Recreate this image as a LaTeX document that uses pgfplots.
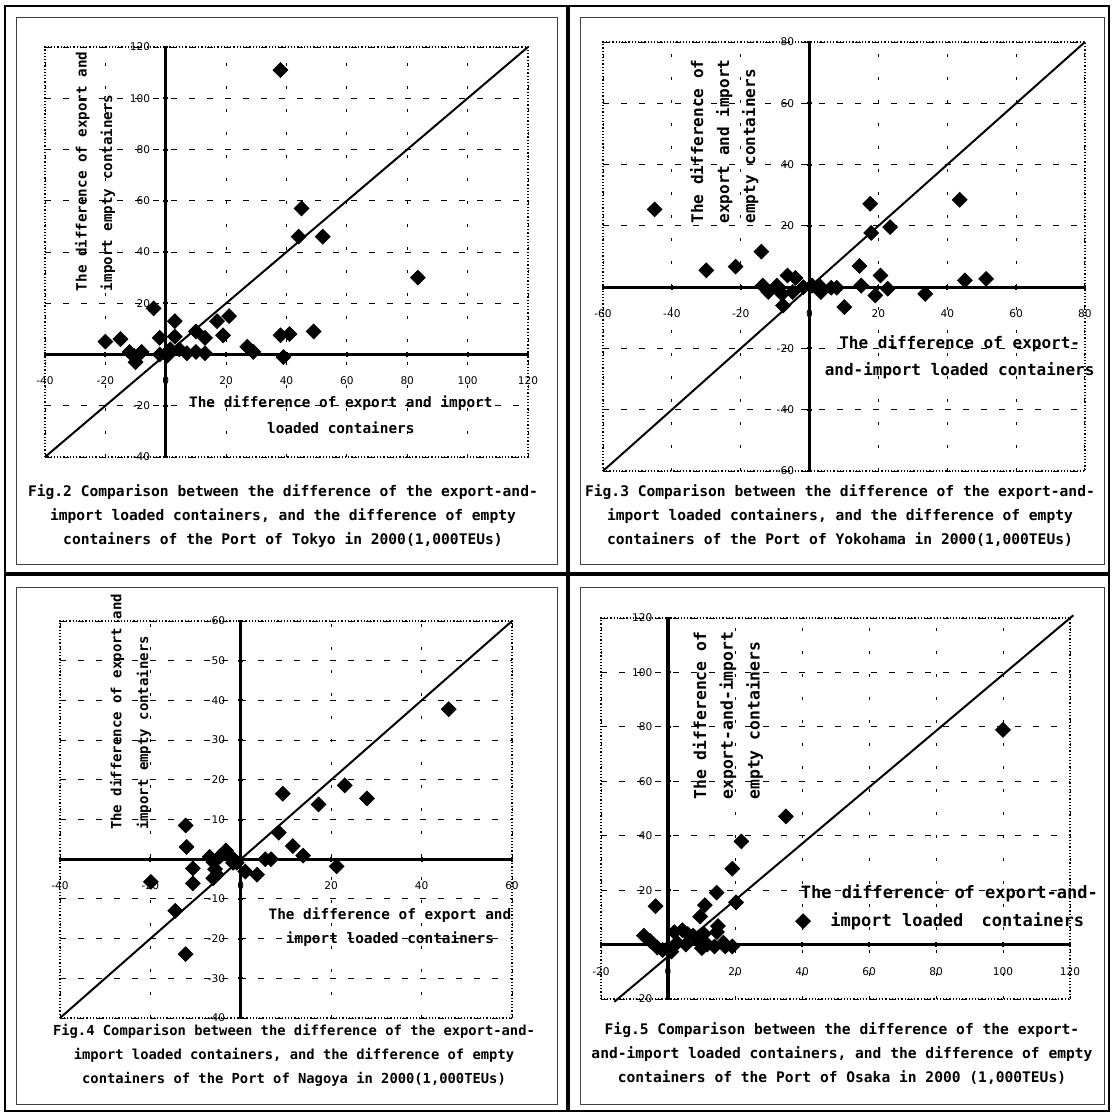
\documentclass[border=0pt]{standalone}
\usepackage{fontspec}
\setmainfont{DejaVu Sans Mono}
\newfontfamily\tickfamily{DejaVu Sans}
\usepackage{pgfplots}
\pgfplotsset{compat=1.18}

\newcommand\tickf{\tickfamily\fontsize{5.3}{6}\selectfont}
\newcommand\capf{\fontsize{7.3}{12}\selectfont\bfseries}

\pgfplotsset{
 panel/.style={
  scale only axis, axis lines=middle, clip=false,
  axis line style={-, line width=1.6pt},
  grid=major,
  x grid style={black, line width=0.5pt, dash pattern=on 1.5pt off 10pt},
  y grid style={black, line width=0.5pt, dash pattern=on 3pt off 6pt},
  tick style={black, line width=1pt},
  major tick length=2.5pt, tick align=center,
  ticklabel style={font=\tickf},
  xticklabel style={yshift=-6.5pt},
  yticklabel style={xshift=-3pt},
  /pgf/number format/assume math mode=true,
  hide obscured x ticks=false,
 },
 dia/.style={only marks, mark=square*, mark size=2.6pt, mark options={rotate=45, fill=black, draw=black}},
 diag/.style={black, line width=1pt, no marks, forget plot},
}

\begin{document}
\begin{tikzpicture}
\useasboundingbox (0,0) rectangle (556.5pt,-557.5pt);

% ---------------- Tokyo ----------------
\begin{axis}[panel,
  at={({45*0.5pt},{-457*0.5pt})}, anchor=south west,
  width=241.5pt, height=205pt,
  xmin=-40, xmax=120, ymin=-40, ymax=120,
  xtick={-40,-20,...,120}, ytick={-40,-20,20,40,60,80,100,120}]
\draw[black, line width=0.6pt, densely dotted] (rel axis cs:0,0) rectangle (rel axis cs:1,1);
\addplot[diag] coordinates {(-40,-40) (120,120)};
\addplot[dia] coordinates {
(38,111) (45,57) (44,46) (52,46) (83.5,30) (-4,18) (3,13) (21,15) (17,13) (19,7.5)
(10,9) (13,6.5) (38,7.5) (41,8) (49,9) (27,3) (29,1) (39,-1) (-20,5) (-15,6)
(-12,1) (-10.5,-0.5) (-10,-3) (-8,1) (-2,6.5) (-2,0) (3,7) (1.5,2) (4.5,2) (7,0.5)
(10,1) (13,0.5) (0.5,-0.5)};
\node[font=\fontsize{7.2}{12.8}\selectfont\bfseries, align=center] at (axis cs:58,-23.6)
  {The difference of export and import\\loaded containers};
\node[font=\fontsize{7.1}{12.8}\selectfont\bfseries, align=left, rotate=90, anchor=west] at (axis cs:-23.4,22)
  {The difference of export and\\import empty containers};
\end{axis}

% ---------------- Yokohama ----------------
\begin{axis}[panel,
  at={({603*0.5pt},{-471*0.5pt})}, anchor=south west,
  width=241pt, height=214.5pt,
  xmin=-60, xmax=80, ymin=-60, ymax=80,
  xtick={-60,-40,...,80}, ytick={-60,-40,-20,20,40,60,80}]
\draw[black, line width=0.6pt, densely dotted] (rel axis cs:0,0) rectangle (rel axis cs:1,1);
\addplot[diag] coordinates {(-60,-60) (80,80)};
\addplot[dia] coordinates {
(-45,25.4) (-30,5.5) (-21.5,6.7) (-14,11.6) (-13.6,0.5) (-12,-1.6) (-9.5,0.5) (-8,-2.2)
(-7.7,-6) (-6.4,3.8) (-4.1,3) (-4.9,-1.6) (-1.8,0) (0.7,0.5) (2.8,0.5) (3.3,-1.6)
(6.3,-0.2) (7.9,-0.2) (10.1,-6.5) (14.5,6.9) (15,0.5) (17.6,27.2) (17.9,17.7)
(23.4,19.6) (20.6,3.8) (19.1,-2.7) (22.7,-0.5) (33.6,-2.2) (43.6,28.5) (45.1,2.2) (51.3,2.7)};
\node[font=\fontsize{8}{13.3}\selectfont\bfseries, align=center] at (axis cs:43.6,-22.85)
  {The difference of export-\\and-import loaded containers};
\node[font=\fontsize{8}{13}\selectfont\bfseries, align=left, rotate=90, anchor=west] at (axis cs:-24.8,18.5)
  {The difference of\\export and import\\empty containers};
\end{axis}

% ---------------- Nagoya ----------------
\begin{axis}[panel,
  at={({60*0.5pt},{-1018*0.5pt})}, anchor=south west,
  width=226pt, height=198.5pt,
  xmin=-40, xmax=60, ymin=-40, ymax=60,
  xtick={-40,-20,...,60}, ytick={-40,-30,-20,-10,10,20,30,40,50,60}]
\draw[black, line width=0.6pt, densely dotted] (rel axis cs:0,0) rectangle (rel axis cs:1,1);
\addplot[diag] coordinates {(-40,-40) (60,60)};
\addplot[dia] coordinates {
(46,37.8) (9.3,16.5) (17.2,13.8) (23,18.6) (27.9,15.3) (8.4,6.7) (11.5,3.3) (13.8,0.9)
(5.4,0) (6.7,0) (21.2,-1.8) (1,-3.1) (3.6,-3.9) (-0.9,-0.9) (-12.2,8.5) (-12,3.1)
(-10.6,-2.3) (-10.6,-6.1) (-19.9,-5.7) (-14.5,-13) (-12.2,-23.9) (-6.9,0.6) (-6.1,-0.7)
(-4.7,0.6) (-3.3,2.2) (-5.7,-2.5) (-6.1,-4.8) (-5.3,-3.9) (-2.1,0.6) (-1.7,-0.9)};
\node[font=\fontsize{7.2}{11.7}\selectfont\bfseries, align=center] at (axis cs:33,-17.1)
  {The difference of export and\\import loaded containers};
\node[font=\fontsize{7}{13.4}\selectfont\bfseries, align=left, rotate=90, anchor=west] at (axis cs:-24.4,5.6)
  {The difference of export and\\import empty containers};
\end{axis}

% ---------------- Osaka ----------------
\begin{axis}[panel,
  at={({601*0.5pt},{-999*0.5pt})}, anchor=south west,
  width=234.5pt, height=190.5pt,
  xmin=-20, xmax=120, ymin=-20, ymax=120,
  xtick={-20,0,...,120}, ytick={-20,20,40,60,80,100,120},
  legend style={at={(axis cs:38,8.6)}, anchor=west, draw=none, fill=none,
    font=\fontsize{8.5}{10}\selectfont\bfseries, inner sep=0pt},
  legend cell align=left]
\draw[black, line width=0.6pt, densely dotted] (rel axis cs:0,0) rectangle (rel axis cs:1,1);
\addplot[diag] coordinates {(-16,-21) (121,121)};
\addplot[dia] coordinates {
(100,78.9) (35.2,47.1) (21.9,37.9) (19.2,27.9) (14.5,19.1) (20.3,15.5) (11,14.5) (9.6,10.3)
(14.9,6.8) (14.6,4.6) (-3.7,14.1) (-7.2,3.3) (-5.3,1.3) (-3.2,-1.1) (-1.6,-2) (0,-1.3)
(1.9,4.6) (4.3,5.3) (5.9,3.9) (7.5,3.3) (2.7,0.7) (5.3,0) (8.5,2) (10.7,3.9) (10.1,-1.3)
(11.7,0) (13.9,-0.7) (16.5,0.7) (17.1,-0.7) (19.2,-0.7) (1,-2.6)};
\addlegendentry{\hspace{8pt}import loaded\hspace{4pt} containers}
\node[font=\fontsize{8.5}{10}\selectfont\bfseries] at (axis cs:84,18.7) {The difference of export-and-};
\node[font=\fontsize{8.2}{13.4}\selectfont\bfseries, align=left, rotate=90, anchor=west] at (axis cs:17.9,50.7)
  {The difference of\\export-and-import\\empty containers};
\end{axis}

% ---------------- frames and captions ----------------
\begin{scope}[x=0.5pt, y=-0.5pt]
\draw[line width=1.1pt] (5,6) rectangle (1109,1111);
\draw[line width=1.6pt] (568,6) -- (568,1111);
\draw[line width=1.6pt] (5,574) -- (1109,574);
\draw[line width=0.4pt, black!75] (16,17) rectangle (557,564);
\draw[line width=0.4pt, black!75] (580,17) rectangle (1104,564);
\draw[line width=0.4pt, black!75] (16,587) rectangle (557,1104);
\draw[line width=0.4pt, black!75] (580,587) rectangle (1104,1104);
\node[font=\capf, align=center] at (283,516)
 {Fig.2 Comparison between the difference of the export-and-\\import loaded containers, and the difference of empty\\containers of the Port of Tokyo in 2000(1,000TEUs)};
\node[font=\capf, align=center] at (840,516)
 {Fig.3 Comparison between the difference of the export-and-\\import loaded containers, and the difference of empty\\containers of the Port of Yokohama in 2000(1,000TEUs)};
\node[font=\fontsize{6.9}{12}\selectfont\bfseries, align=center] at (294,1055)
 {Fig.4 Comparison between the difference of the export-and-\\import loaded containers, and the difference of empty\\containers of the Port of Nagoya in 2000(1,000TEUs)};
\node[font=\capf, align=center] at (842,1054)
 {Fig.5 Comparison between the difference of the export-\\and-import loaded containers, and the difference of empty\\containers of the Port of Osaka in 2000 (1,000TEUs)};
\end{scope}
\end{tikzpicture}
\end{document}
